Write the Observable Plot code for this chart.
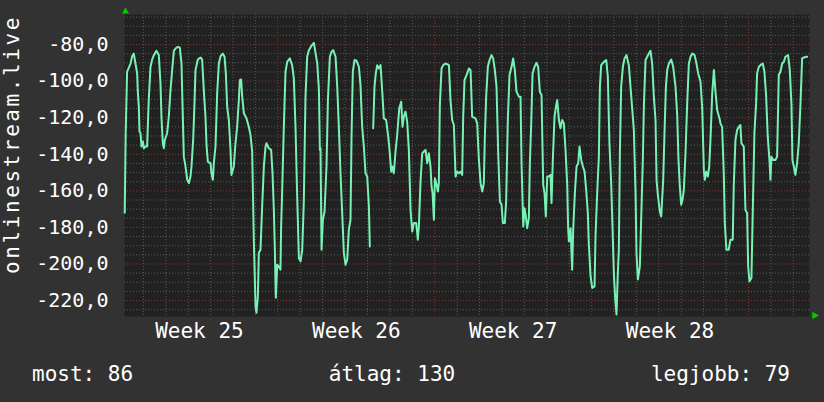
<!DOCTYPE html>
<html>
<head>
<meta charset="utf-8">
<script src="https://cdn.jsdelivr.net/npm/d3@7"></script>
<script src="https://cdn.jsdelivr.net/npm/@observablehq/plot@0.6"></script>
<style>
  html, body { margin: 0; padding: 0; background: #323232; }
  #wrap { position: relative; width: 824px; height: 402px; background: #323232; overflow: hidden; }
  #legend { position: absolute; left: 0; top: 350px; width: 824px; height: 52px;
            font-family: "DejaVu Sans Mono", monospace; font-size: 21px; color: #fff; }
  #legend span { position: absolute; top: 14px; line-height: 21px; white-space: pre; }
</style>
</head>
<body>
<div id="wrap"><div id="chart"></div><div id="legend"></div></div>
<script>
// ---- data (hours since start of Week 25, value) ----
const samples = [
[4.0,-172],[5.0,-129.5],[6.5,-95],[10.2,-90.4],[12.0,-86.4],[13.7,-85],[15.5,-90.4],[17.3,-95.8],[18.0,-105.8],[19.1,-114],
[19.8,-127.6],[20.9,-128.5],[22.0,-135.8],[23.4,-133],[24.5,-136.7],[26.2,-135.8],[28.0,-135.8],[28.7,-125],[29.8,-109.5],[31.6,-92.2],
[33.4,-88.2],[35.2,-85.8],[38.0,-83.5],[40.5,-85.8],[42.3,-101.3],[43.4,-120.4],[44.8,-134],[45.9,-136.7],[46.9,-132.2],[49.4,-128.5],
[51.2,-119.5],[53.0,-105],[54.8,-94],[56.6,-83.5],[58.4,-82.2],[60.9,-81.3],[63.0,-81.7],[64.8,-90.4],[65.5,-105],[67.3,-141.3],
[69.1,-146.7],[70.9,-154],[72.7,-155.8],[74.4,-152.2],[75.5,-146.7],[77.3,-132.2],[78.7,-112.2],[79.8,-94],[82.3,-88.2],[85.1,-87.1],
[86.9,-88.2],[88.7,-105],[90.5,-119.5],[91.6,-135],[93.0,-144],[95.9,-145],[96.9,-150.4],[98.4,-154],[99.4,-145],[101.2,-135.8],
[103.0,-106.7],[104.8,-90.4],[106.6,-86.4],[109.1,-85],[110.9,-86.7],[112.3,-95.8],[113.7,-114],[115.5,-121.3],[117.3,-137.6],[118.3,-151.3],
[120.8,-146.7],[122.6,-134],[124.4,-125],[126.2,-110.4],[127.3,-99.5],[128.7,-99.1],[129.8,-108.5],[131.6,-117.6],[134.4,-120.4],[136.9,-125],
[138.7,-129.5],[140.5,-138.5],[142.3,-187.6],[144.1,-223.1],[145.1,-226.7],[146.6,-217.6],[147.6,-194],[149.4,-192.2],[151.2,-168.5],[153.0,-146.7],
[154.8,-135.8],[155.8,-134],[158.3,-136.7],[160.8,-137.6],[162.3,-150.4],[163.7,-170.4],[164.8,-192.2],[165.8,-218.5],[167.3,-200.4],[169.1,-201.3],
[170.8,-203.1],[171.5,-179.5],[172.6,-160.4],[174.4,-125],[176.2,-95],[178.0,-89.5],[180.8,-87.6],[183.3,-91.3],[185.1,-98.5],[186.9,-125],
[188.7,-163.1],[190.5,-196.7],[192.3,-198.5],[194.1,-192.2],[195.8,-165.8],[197.6,-108.5],[199.4,-86.7],[201.2,-83.1],[203.7,-80.9],[206.6,-79.1],
[208.4,-84.9],[210.2,-90.4],[212.0,-105],[213.0,-137.6],[213.7,-136.7],[214.8,-192.2],[216.2,-175.8],[218.0,-171.3],[220.1,-146.7],[221.6,-110.4],
[223.7,-86.7],[225.5,-84],[227.3,-83.1],[229.8,-86.7],[231.6,-103.1],[233.3,-124.9],[235.1,-150.4],[236.9,-172.2],[238.7,-194],[240.5,-200.4],
[242.3,-197.6],[244.0,-181.3],[245.8,-175.8],[246.9,-130.4],[248.3,-94.9],[250.1,-88.5],[252.3,-88.9],[254.8,-92.2],[256.5,-102.2],[258.3,-124.9],
[260.1,-135.8],[261.9,-150.4],[263.7,-152.2],[265.5,-168.5],[266.5,-190.4],[268.5,null],[270.1,-125.8],[271.5,-103.1],[272.9,-95.8],[274.4,-91.3],
[276.2,-93.1],[278.0,-91.3],[279.7,-104.9],[281.5,-120.4],[284.0,-121.3],[286.2,-130.4],[287.6,-137.6],[289.4,-149.5],[290.5,-146.7],[292.2,-150.4],
[294.0,-138.5],[295.8,-129.5],[298.0,-114.9],[300.1,-111.3],[301.5,-124.9],[302.9,-119.5],[304.7,-116.7],[306.5,-122.2],[308.3,-137.6],[310.1,-170.4],
[311.9,-182.2],[313.7,-177.6],[316.2,-177.6],[317.9,-186.7],[319.0,-179.5],[320.8,-154.9],[322.6,-139.5],[324.4,-138.5],[326.2,-137.6],[327.9,-144.9],
[329.7,-139.5],[331.5,-146.7],[332.6,-157.6],[333.7,-161.3],[335.1,-175.8],[336.2,-153.1],[337.6,-155.8],[339.4,-160.4],[340.4,-155.8],[341.5,-113.1],
[343.3,-93.1],[345.1,-91.3],[347.6,-90.4],[351.2,-91.3],[352.9,-110.4],[354.7,-121.3],[356.5,-124],[358.3,-152.2],[360.1,-149.5],[361.9,-150.4],
[363.6,-149.5],[365.4,-151.3],[366.5,-119.5],[367.9,-99.5],[370.1,-96.7],[372.6,-93.1],[374.4,-94],[376.1,-119.5],[379.7,-120.4],[381.5,-123.1],
[383.3,-143.1],[385.1,-155.8],[386.9,-160.4],[388.6,-155.8],[389.7,-130.4],[391.1,-108.5],[392.9,-92.2],[394.7,-88.5],[396.8,-85.8],[398.6,-87.6],
[400.4,-94],[402.2,-103.1],[404.0,-139.5],[405.8,-165.8],[407.6,-167.6],[409.0,-177.6],[411.1,-177.6],[412.5,-165.8],[414.3,-121.3],[416.1,-96.7],
[418.3,-92.2],[420.0,-87.6],[421.8,-94],[423.6,-105.8],[426.1,-108.5],[427.9,-108.5],[429.0,-144.9],[430.8,-179.5],[432.2,-169.5],[433.6,-174],
[435.0,-180.4],[436.8,-175],[437.9,-144.9],[439.3,-124],[440.8,-95.8],[442.9,-92.2],[445.0,-90],[446.8,-92.2],[448.6,-105.8],[450.4,-107.6],
[452.2,-156.7],[453.6,-161.3],[455.0,-174],[456.5,-152.2],[458.2,-152.2],[460.0,-151.3],[461.1,-166.7],[462.5,-143.1],[464.3,-119.5],[466.1,-113.1],
[467.2,-110.4],[469.0,-121.3],[470.7,-125.8],[472.5,-121.3],[474.3,-123.1],[476.1,-137.6],[477.9,-156.7],[478.9,-180.4],[479.7,-187.6],[481.5,-180.4],
[483.2,-203.1],[484.3,-181.3],[486.1,-161.3],[487.9,-146.7],[489.7,-144.9],[491.1,-135.8],[492.9,-143.1],[494.7,-146.7],[496.5,-149.5],[498.2,-159.5],
[500.0,-172.2],[501.1,-189.5],[502.9,-206.7],[504.7,-213.1],[507.2,-212.2],[508.2,-184.9],[510.0,-161.3],[511.8,-141.3],[512.9,-103.1],[514.3,-91.3],
[517.2,-89.5],[519.7,-88.5],[521.4,-97.6],[523.2,-134.9],[525.0,-155.8],[526.4,-179.5],[527.9,-205.8],[529.3,-218.5],[530.7,-227.6],[532.1,-204.9],
[533.2,-192.2],[534.3,-139.5],[535.7,-103.1],[537.5,-92.2],[539.3,-87.6],[541.4,-85.8],[543.9,-91.3],[545.7,-103.1],[547.5,-114.9],[549.3,-127],
[551.1,-161.3],[552.1,-194],[553.6,-208.5],[555.7,-201.3],[557.1,-175.8],[558.9,-143.1],[560.0,-114],[561.8,-88.5],[563.6,-86.7],[565.4,-84.9],
[567.1,-83.5],[568.9,-90.4],[570.7,-108.5],[572.5,-121.3],[573.6,-154],[575.0,-162.2],[577.1,-171.3],[578.6,-174],[580.7,-154],[582.1,-128.5],
[583.6,-103.1],[585.0,-94],[586.8,-90.4],[589.3,-88.2],[591.4,-92.2],[593.9,-103.1],[595.7,-118.5],[597.1,-143.1],[598.5,-157.6],[600.0,-167.6],
[601.4,-164.9],[602.8,-159.5],[604.6,-139.5],[606.4,-112.2],[608.2,-90.4],[610.0,-86.7],[611.8,-84.9],[614.3,-85.8],[616.0,-89.5],[618.2,-95.8],
[620.7,-100.4],[622.5,-114.9],[624.3,-149.5],[625.3,-154],[626.7,-149.5],[628.5,-152.2],[630.0,-146.7],[631.4,-131.3],[633.2,-106.7],[635.0,-94],
[636.7,-105.8],[638.5,-115.8],[641.4,-121.3],[642.0,-123.1],[643.8,-125],[645.6,-150.4],[646.7,-177.6],[648.4,-192.2],[650.9,-192.2],[652.7,-186.7],
[655.2,-186.7],[656.3,-156.7],[658.1,-132.2],[659.9,-126.7],[661.7,-125],[663.4,-124],[664.5,-134],[667.0,-135.8],[668.8,-170.4],[670.6,-172.2],
[671.7,-201.3],[673.1,-209.5],[675.2,-207.6],[676.6,-172.2],[678.4,-128.5],[680.2,-112.2],[681.3,-95.8],[683.1,-92.2],[684.9,-91.3],[687.4,-90.4],
[689.1,-94.9],[690.9,-107.6],[692.7,-130.4],[694.5,-143.1],[695.6,-154],[696.6,-141.3],[698.4,-143.1],[700.9,-143.1],[702.7,-141.3],[704.5,-96.7],
[706.3,-94.9],[708.1,-90.4],[709.9,-89.5],[711.6,-86.7],[714.5,-85.8],[716.3,-94],[718.1,-113.1],[719.1,-143.1],[720.6,-146.7],[722.3,-151.3],
[724.1,-144.9],[725.9,-134],[727.7,-113.1],[729.5,-87.6],[731.3,-87.1],[734.1,-86.7],[734.9,-86.7]
];

const xDomain = [3.75, 737.4];            // hours shown
const yDomain = [-228.7, -63.6];          // value range shown
const weekTicks = [84, 252, 420, 588];    // week centres (hours)
const weekLabels = ["Week 25", "Week 26", "Week 27", "Week 28"];
const weekBounds = [168, 336, 504, 672];  // week boundaries (hours)
const dayLines = [24,48,72,96,120,144,192,216,240,264,288,312,360,384,408,432,456,480,528,552,576,600,624,648,696,720];
const yTicks = [-80, -100, -120, -140, -160, -180, -200, -220];
const yTickLabels = ["-80,0", "-100,0", "-120,0", "-140,0", "-160,0", "-180,0", "-200,0", "-220,0"];
const yMinor = [-225,-215,-210,-205,-195,-190,-185,-175,-170,-165,-155,-150,-145,-135,-130,-125,-115,-110,-105,-95,-90,-85,-75,-70,-65];
const yLabel = "onlinestream.live";
const legendLabels = ["most: 86", "átlag: 130", "legjobb: 79"];

const pts = samples.map(([h, v]) => ({h, v: v == null ? NaN : v}));
const yLab = new Map(yTicks.map((t, i) => [t, yTickLabels[i]]));
const wLab = new Map(weekTicks.map((t, i) => [t, weekLabels[i]]));

const mono = "DejaVu Sans Mono, monospace";
const plot = Plot.plot({
  width: 824,
  height: 350,
  marginLeft: 124,
  marginRight: 15,
  marginTop: 14,
  marginBottom: 34,
  style: {background: "transparent", color: "#ffffff", fontFamily: mono, fontSize: "20px"},
  x: {domain: xDomain},
  y: {domain: yDomain},
  marks: [
    Plot.frame({fill: "#212121", stroke: null}),
    Plot.ruleY(yMinor, {stroke: "#5a5a5a", strokeWidth: 1, strokeDasharray: "1,2"}),
    Plot.ruleX(dayLines, {stroke: "#5a5a5a", strokeWidth: 1, strokeDasharray: "1,2"}),
    Plot.ruleY(yTicks, {stroke: "#8a3434", strokeWidth: 1, strokeDasharray: "1,2"}),
    Plot.ruleX(weekBounds, {stroke: "#8a3434", strokeWidth: 1, strokeDasharray: "1,2"}),
    Plot.axisY(yTicks, {tickFormat: d => yLab.get(d), tickSize: 0, tickPadding: 16, label: null, fontSize: 20, fill: "#ffffff"}),
    Plot.axisX(weekTicks, {tickFormat: d => wLab.get(d), tickSize: 0, tickPadding: 7, label: null, fontSize: 21, fill: "#ffffff"}),
    Plot.line(pts, {x: "h", y: "v", stroke: "#78f2b4", strokeWidth: 2, curve: "linear"}),
    Plot.text([yLabel], {text: d => d, frameAnchor: "left", textAnchor: "middle", lineAnchor: "middle", rotate: -90, dx: -112, dy: -21, fill: "#ffffff", fontSize: 21, fontFamily: mono}),
    Plot.dot([0], {x: xDomain[0], y: yDomain[1], dx: 1, dy: -3, symbol: "triangle", r: 2.6, fill: "#00cc00", stroke: null}),
    Plot.dot([0], {x: xDomain[1], y: yDomain[0], dx: 5, dy: -1, symbol: "triangle", rotate: 90, r: 2.8, fill: "#00cc00", stroke: null})
  ]
});
document.getElementById("chart").appendChild(plot);
d3.select(plot).selectAll("text").filter(function() { return this.textContent === yLabel; })
  .attr("letter-spacing", "2.6px");

const lg = d3.select("#legend");
lg.append("span").style("left", "32px").text(legendLabels[0]);
lg.append("span").style("left", "392px").style("transform", "translateX(-50%)").text(legendLabels[1]);
lg.append("span").style("right", "34px").text(legendLabels[2]);
</script>
</body>
</html>
